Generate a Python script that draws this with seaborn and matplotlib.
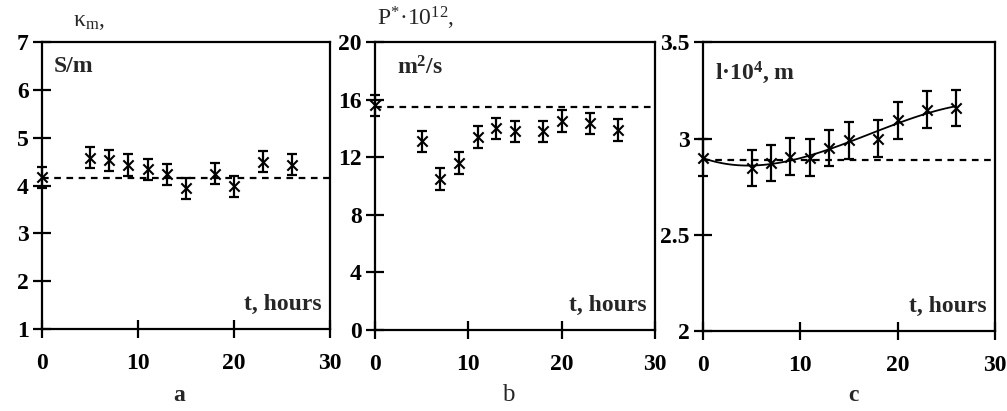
import numpy as np
import matplotlib
matplotlib.use("Agg")
import matplotlib.pyplot as plt
import seaborn as sns

# time points, hours
t = [0, 5, 7, 9, 11, 13, 15, 18, 20, 23, 26]

# a: conductivity, S/m
kappa = [4.17, 4.58, 4.53, 4.43, 4.34, 4.24, 3.94, 4.25, 3.99, 4.50, 4.44]
kappa_err = [0.22] * 11
kappa_ref = 4.15

# b: permeability * 1e12, m2/s
perm = [15.6, 13.1, 10.5, 11.6, 13.4, 14.0, 13.8, 13.8, 14.5, 14.35, 13.9]
perm_err = [0.75] * 11
perm_ref = 15.5

# c: length * 1e4, m
length = [2.90, 2.846, 2.872, 2.906, 2.90, 2.95, 2.99, 3.00, 3.094, 3.15, 3.158]
length_err = [0.095] * 11
length_ref = 2.888

sns.set_style("ticks")
plt.rcParams["font.family"] = ["Liberation Serif", "DejaVu Serif"]
plt.rcParams["font.weight"] = "bold"
plt.rcParams["mathtext.fontset"] = "custom"
plt.rcParams["mathtext.rm"] = "Liberation Serif"
plt.rcParams["mathtext.it"] = "Liberation Serif"
plt.rcParams["mathtext.bf"] = "Liberation Serif:bold"

fig = plt.figure(figsize=(10.07, 4.11), dpi=100)
ax_a = fig.add_axes([0.0417, 0.1995, 0.286, 0.698])
ax_b = fig.add_axes([0.3724, 0.197, 0.278, 0.7007])
ax_c = fig.add_axes([0.698, 0.1946, 0.29, 0.7026])

panels = [
    (ax_a, kappa, kappa_err, kappa_ref, (1, 7), [1, 2, 3, 4, 5, 6, 7], ["1", "2", "3", "4", "5", "6", "7"]),
    (ax_b, perm, perm_err, perm_ref, (0, 20), [0, 4, 8, 12, 16, 20], ["0", "4", "8", "12", "16", "20"]),
    (ax_c, length, length_err, length_ref, (2, 3.5), [2, 2.5, 3, 3.5], ["2", "2.5", "3", "3.5"]),
]

for ax, y, yerr, ref, ylim, yt, ytl in panels:
    eb = ax.errorbar(t, y, yerr=yerr, fmt="none", ecolor="black", elinewidth=1.6,
                     capsize=3.5, capthick=1.6, zorder=3)
    for art in eb.lines[1] + eb.lines[2]:
        art.set_clip_on(False)
    sns.scatterplot(x=t, y=y, marker="x", s=55, color="black", linewidth=1.5,
                    ax=ax, zorder=4, clip_on=False)
    ax.axhline(ref, color="black", linestyle=(0, (3, 2.5)), linewidth=1.6, zorder=2)
    ax.set_xlim(0, 30)
    ax.set_ylim(*ylim)
    ax.set_xticks([0, 10, 20, 30])
    ax.set_xticklabels(["0", "10", "20", "30"], fontsize=17, fontweight="bold")
    ax.set_yticks(yt)
    ax.set_yticklabels(ytl, fontsize=17, fontweight="bold")
    ax.tick_params(axis="both", direction="inout", length=13, width=1.6, colors="black")
    ax.tick_params(axis="x", pad=11)
    ax.tick_params(axis="y", pad=3)
    for sp in ax.spines.values():
        sp.set_linewidth(1.6)
        sp.set_color("black")
    ax.set_xlabel("")
    ax.set_ylabel("")
    ax.text(0.97, 0.05, "t, hours", transform=ax.transAxes, ha="right", va="bottom",
            fontsize=17, fontweight="bold")

# fitted trend in panel c
sns.regplot(x=t, y=length, order=3, ci=None, scatter=False, ax=ax_c,
            line_kws={"color": "black", "linewidth": 1.3, "zorder": 3})
ax_c.set_xlim(0, 30)
ax_c.set_xlabel("")
ax_c.set_ylabel("")

# unit labels
fig.text(0.072, 0.922, r"$\mathregular{\kappa_m}$,", fontsize=17, ha="left", va="bottom",
         fontweight="normal")
ax_a.text(0.04, 0.95, "S/m", transform=ax_a.transAxes, ha="left", va="top",
          fontsize=17, fontweight="bold")
fig.text(0.374, 0.922, r"$\mathregular{P^{*}·10^{12}}$,", fontsize=17, ha="left", va="bottom",
         fontweight="normal")
ax_b.text(0.08, 0.95, r"$\mathbf{m^{2}/s}$", transform=ax_b.transAxes, ha="left", va="top",
          fontsize=17)
ax_c.text(0.04, 0.94, r"$\mathregular{l·10^{4}}$, m", transform=ax_c.transAxes,
          ha="left", va="top", fontsize=17, fontweight="bold")

# panel letters
fig.text(0.178, 0.012, "a", fontsize=17, fontweight="bold", ha="center", va="bottom")
fig.text(0.505, 0.012, "b", fontsize=18, fontweight="normal", ha="center", va="bottom")
fig.text(0.848, 0.012, "c", fontsize=17, fontweight="bold", ha="center", va="bottom")

fig.savefig("out.png", dpi=100)
